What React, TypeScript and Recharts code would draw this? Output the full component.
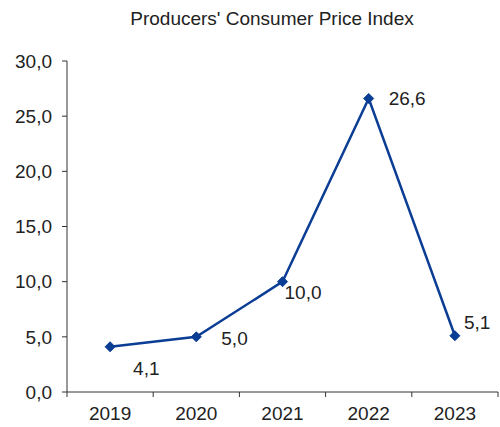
import React from "react";
import { LineChart, Line, XAxis, YAxis, LabelList } from "recharts";

const years = ["2019", "2020", "2021", "2022", "2023"];
const values = [4.1, 5.0, 10.0, 26.6, 5.1];
const yTicks = [0, 5, 10, 15, 20, 25, 30];
const boundaryTicks = [0, 1, 2, 3, 4, 5];
const title = "Producers' Consumer Price Index";

// label placement relative to the point: [dx to label start, dy to label centre]
const labelOffsets: [number, number][] = [
  [23, 21],
  [25, 1],
  [2, 10],
  [20, 0],
  [9, -14],
];

const data = years.map((y, i) => ({ year: y, value: values[i], pos: i + 0.5 }));

const W = 500;
const H = 427;
const M = { top: 61, right: 2, bottom: 0, left: 0 };
const Y_W = 67;
const X_H = 35;
const FONT = "'Liberation Sans', Arial, sans-serif";
const BLUE = "#0b3d94";
const AXIS = "#333";
const TEXT = "#222";
const HALF_BAND = (W - M.left - M.right - Y_W) / years.length / 2;

const fmt = (v: number) => v.toFixed(1).replace(".", ",");

const Diamond = (props: any) => {
  const { cx, cy } = props;
  if (cx == null || cy == null) return null;
  const s = 5;
  return (
    <polygon
      points={`${cx},${cy - s} ${cx + s},${cy} ${cx},${cy + s} ${cx - s},${cy}`}
      fill={BLUE}
      stroke={BLUE}
      strokeWidth={1}
      strokeLinejoin="round"
    />
  );
};

const XTick = (props: any) => {
  const { x, y, payload } = props;
  const label = years[payload.value];
  if (!label) return <g />;
  return (
    <text
      x={Number(x) + HALF_BAND}
      y={Number(y)}
      dy="0.71em"
      textAnchor="middle"
      fill={TEXT}
      fontSize={19}
      fontFamily={FONT}
    >
      {label}
    </text>
  );
};

const ValueLabel = (props: any) => {
  const { x, y, value, index } = props;
  const [dx, dy] = labelOffsets[index] || [0, 0];
  return (
    <text
      x={x + dx}
      y={y + dy}
      dy="0.36em"
      textAnchor="start"
      fill={TEXT}
      fontSize={19}
      fontFamily={FONT}
    >
      {fmt(value)}
    </text>
  );
};

export default function App() {
  return (
    <div style={{ position: "absolute", left: 0, top: 0, width: W, height: H, background: "#fff" }}>
      <div
        style={{
          position: "absolute",
          left: 0,
          width: 544,
          top: 8,
          textAlign: "center",
          fontFamily: FONT,
          fontSize: 19,
          color: TEXT,
          lineHeight: "22px",
        }}
      >
        {title}
      </div>
      <LineChart width={W} height={H} data={data} margin={M}>
        <XAxis
          type="number"
          dataKey="pos"
          domain={[0, 5]}
          ticks={boundaryTicks}
          interval={0}
          height={X_H}
          axisLine={{ stroke: AXIS, strokeWidth: 1 }}
          tickLine={{ stroke: AXIS, strokeWidth: 1 }}
          tickSize={5}
          tickMargin={10}
          tick={<XTick />}
        />
        <YAxis
          width={Y_W}
          domain={[0, 30]}
          ticks={yTicks}
          interval={0}
          tickFormatter={fmt}
          axisLine={{ stroke: AXIS, strokeWidth: 1 }}
          tickLine={{ stroke: AXIS, strokeWidth: 1 }}
          tickSize={5}
          tickMargin={10}
          tick={{ fill: TEXT, fontSize: 19, fontFamily: FONT }}
        />
        <Line
          type="linear"
          dataKey="value"
          stroke={BLUE}
          strokeWidth={2.5}
          dot={<Diamond />}
          activeDot={false}
          isAnimationActive={false}
        >
          <LabelList dataKey="value" content={<ValueLabel />} />
        </Line>
      </LineChart>
    </div>
  );
}
